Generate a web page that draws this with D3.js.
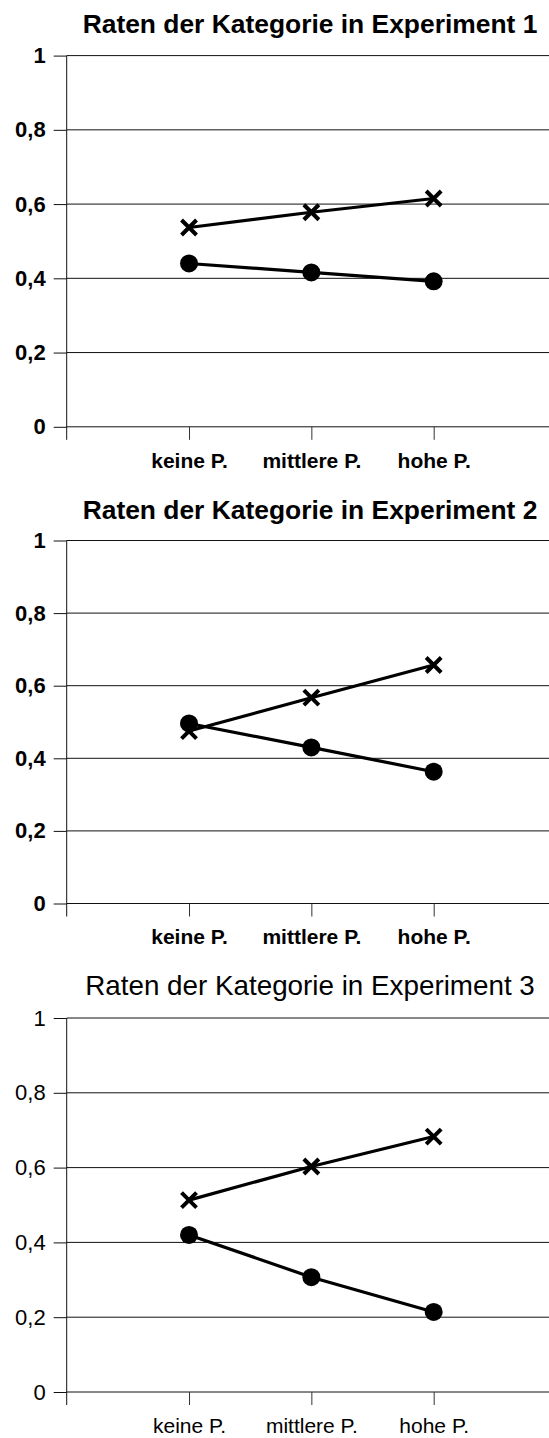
<!DOCTYPE html>
<html>
<head>
<meta charset="utf-8">
<script src="https://cdn.jsdelivr.net/npm/d3@7"></script>
<style>
  html, body { margin: 0; padding: 0; background: #fff; }
  svg { display: block; }
  text { font-family: "Liberation Sans", Arial, sans-serif; fill: #000; }
</style>
</head>
<body>
<svg id="chart" width="549" height="1438"></svg>
<script>
// ---- data ----
const categories = ["keine P.", "mittlere P.", "hohe P."];
const titles = [
  "Raten der Kategorie in Experiment 1",
  "Raten der Kategorie in Experiment 2",
  "Raten der Kategorie in Experiment 3"
];
const yTickValues = [0, 0.2, 0.4, 0.6, 0.8, 1];
const yTickLabels = ["0", "0,2", "0,4", "0,6", "0,8", "1"];

const exp1Cross  = [0.537, 0.578, 0.615];
const exp1Circle = [0.440, 0.416, 0.392];
const exp2Cross  = [0.475, 0.567, 0.657];
const exp2Circle = [0.496, 0.430, 0.363];
const exp3Cross  = [0.513, 0.603, 0.683];
const exp3Circle = [0.420, 0.307, 0.214];

// ---- layout ----
const panels = [
  { title: titles[0], cross: exp1Cross, circle: exp1Circle, top: 55.6, bottom: 426.8, titleY: 33, bold: true, titleSize: 26.4 },
  { title: titles[1], cross: exp2Cross, circle: exp2Circle, top: 540.5, bottom: 903.5, titleY: 518.5, bold: true, titleSize: 26.4 },
  { title: titles[2], cross: exp3Cross, circle: exp3Circle, top: 1018, bottom: 1392, titleY: 995, bold: false, titleSize: 27.8 }
];

const svg = d3.select("#chart");
const axisX = 66.7;
const rightEdge = 549;
const x = d3.scalePoint().domain(["_s", ...categories, "_e"]).range([axisX, 556]);

panels.forEach(p => {
  const g = svg.append("g");
  const weight = p.bold ? "bold" : "normal";
  const y = d3.scaleLinear().domain([0, 1]).range([p.bottom, p.top]);

  // title
  g.append("text")
    .attr("x", 310).attr("y", p.titleY)
    .attr("text-anchor", "middle")
    .style("font-size", p.titleSize + "px")
    .style("font-weight", weight)
    .text(p.title);

  // gridlines
  g.append("g").selectAll("line").data(yTickValues).join("line")
    .attr("x1", axisX).attr("x2", rightEdge)
    .attr("y1", d => y(d)).attr("y2", d => y(d))
    .attr("stroke", "#111").attr("stroke-width", 1);

  // y axis
  const yAxis = d3.axisLeft(y).tickValues(yTickValues)
    .tickFormat((d, i) => yTickLabels[i])
    .tickSize(13).tickPadding(8).tickSizeOuter(0);
  const ya = g.append("g").attr("transform", `translate(${axisX},0)`).call(yAxis);
  ya.select(".domain").remove();
  ya.selectAll(".tick line").attr("stroke", "#111");
  ya.selectAll(".tick text")
    .style("font-size", "22px").style("font-weight", weight)
    .style("font-family", "'Liberation Sans', Arial, sans-serif");
  // vertical axis line (extends below zero like a tick)
  g.append("line")
    .attr("x1", axisX).attr("x2", axisX)
    .attr("y1", y(1)).attr("y2", y(0) + 13)
    .attr("stroke", "#111").attr("stroke-width", 1);

  // x axis
  const xAxis = d3.axisBottom(x).tickValues(categories)
    .tickSize(13).tickPadding(13).tickSizeOuter(0);
  const xa = g.append("g").attr("transform", `translate(0,${y(0)})`).call(xAxis);
  xa.select(".domain").remove();
  xa.selectAll(".tick line").attr("stroke", "#333");
  xa.selectAll(".tick text")
    .style("font-size", "21px").style("font-weight", weight)
    .style("font-family", "'Liberation Sans', Arial, sans-serif");

  const line = d3.line().x((d, i) => x(categories[i])).y(d => y(d));

  // cross series
  g.append("path").datum(p.cross)
    .attr("d", line).attr("fill", "none")
    .attr("stroke", "#000").attr("stroke-width", 3.2);
  const s = 7.5;
  g.append("g").selectAll("path").data(p.cross).join("path")
    .attr("d", (d, i) => {
      const cx = x(categories[i]), cy = y(d);
      return `M${cx - s},${cy - s}L${cx + s},${cy + s}M${cx - s},${cy + s}L${cx + s},${cy - s}`;
    })
    .attr("stroke", "#000").attr("stroke-width", 4).attr("fill", "none");

  // circle series
  g.append("path").datum(p.circle)
    .attr("d", line).attr("fill", "none")
    .attr("stroke", "#000").attr("stroke-width", 3.2);
  g.append("g").selectAll("circle").data(p.circle).join("circle")
    .attr("cx", (d, i) => x(categories[i]))
    .attr("cy", d => y(d))
    .attr("r", 9).attr("fill", "#000");
});
</script>
</body>
</html>
